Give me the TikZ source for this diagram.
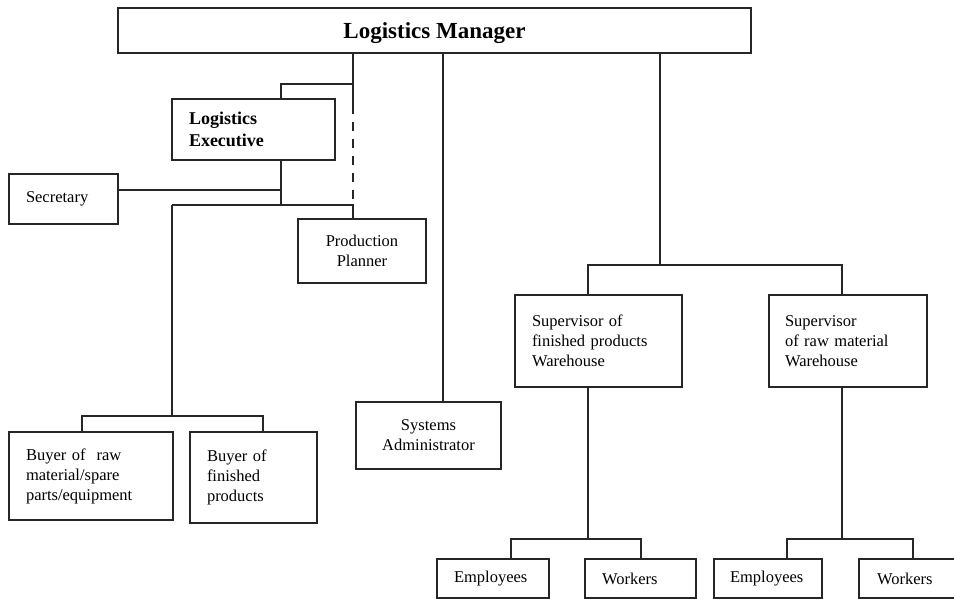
\documentclass[tikz,border=0pt]{standalone}
\usepackage{fontspec}
\setmainfont{Liberation Serif}
\usepackage{tikz}
\usetikzlibrary{positioning,calc}

\begin{document}
\begin{tikzpicture}[
    x=1pt, y=-1pt,
    line width=1.1pt, draw=black!85,
    font=\fontsize{16.5}{20}\selectfont,
    unit/.style={rectangle, draw=black!85, line width=1.1pt, inner sep=0pt, align=center},
    leftunit/.style={rectangle, draw=black!85, line width=1.1pt, inner ysep=0pt, inner xsep=17pt, align=left},
    headfont/.style={font=\fontsize{23}{27}\selectfont\bfseries},
    execfont/.style={font=\fontsize{18}{21.7}\selectfont\bfseries}
]
    \useasboundingbox (0,0) rectangle (954,599);

    % Top
    \node[unit, headfont, text depth=0pt, minimum width=633pt, minimum height=45pt] (mgr) at (434.5,30.5) {Logistics Manager};

    % Left branch
    \node[leftunit, execfont, text width=129pt, minimum height=61pt] (exec) at (253.5,129.5) {Logistics\\Executive};
    \node[leftunit, text width=75pt, minimum height=50pt] (sec) at (63.5,199) {Secretary};
    \node[unit, minimum width=128pt, minimum height=64pt] (plan) at (362,251) {Production\\Planner};
    \node[leftunit, text width=130pt, minimum height=88pt] (buyraw) at (91,476) {Buyer of\ \ raw\\material/spare\\parts/equipment};
    \node[leftunit, text width=93pt, minimum height=91pt] (buyfin) at (253.5,477.5) {Buyer of\\finished\\products};

    % Middle
    \node[unit, minimum width=145pt, minimum height=67pt] (sysadm) at (428.5,435.5) {Systems\\Administrator};

    % Right branch
    \node[leftunit, text width=133pt, minimum height=92pt] (supfin) at (598.5,341) {Supervisor of\\finished products\\Warehouse};
    \node[leftunit, inner xsep=16pt, text width=126pt, minimum height=92pt] (supraw) at (848,341) {Supervisor\\of raw material\\Warehouse};
    \node[leftunit, text width=78pt, minimum height=39pt] (emp1) at (493,578.5) {Employees};
    \node[leftunit, text width=77pt, minimum height=39pt] (wrk1) at (640.5,578.5) {Workers};
    \node[leftunit, inner xsep=16pt, text width=76pt, minimum height=39pt] (emp2) at (768,578.5) {Employees};
    \node[leftunit, inner xsep=18pt, text width=75pt, minimum height=39pt] (wrk2) at (914.5,578.5) {Workers};

    % Connection points
    \coordinate (execin) at ($(exec.north)+(27.5,0)$);
    \coordinate (execout) at ($(exec.south)+(27.5,0)$);
    \coordinate (planin) at ($(plan.north)+(-9,0)$);
    \coordinate (secout) at ($(sec.east)+(0,-9)$);
    \coordinate (buyrawin) at ($(buyraw.north)+(-9,0)$);
    \coordinate (buyfinin) at ($(buyfin.north)+(9.5,0)$);
    \coordinate (sysin) at ($(sysadm.north)+(14.5,0)$);
    \coordinate (supfinin) at ($(supfin.north)+(-10.5,0)$);
    \coordinate (suprawin) at ($(supraw.north)+(-6,0)$);
    \coordinate (emp1in) at ($(emp1.north)+(18,0)$);
    \coordinate (wrk1in) at ($(wrk1.north)+(0.5,0)$);
    \coordinate (emp2in) at ($(emp2.north)+(19,0)$);
    \coordinate (wrk2in) at ($(wrk2.north)+(-1.5,0)$);

    \coordinate (splitexec) at (353,84);
    \coordinate (dashtop) at (353,105);
    \coordinate (splitplan) at (353,205);
    \coordinate (splitbuy) at (172,416);
    \coordinate (splitsup) at (660,265);
    \coordinate (splitfin) at (588,539);
    \coordinate (splitraw) at (842,539);

    % Logistics Executive
    \draw (mgr.south -| splitexec) -- (dashtop);
    \draw (splitexec) -| (execin);
    \draw[dash pattern=on 9pt off 8pt] (dashtop) -- (splitplan);

    % Secretary, Production Planner, Buyers
    \draw (execout) -- (execout |- splitplan);
    \draw (secout) -- (secout -| execout);
    \draw (splitbuy |- splitplan) -- (splitplan) -- (planin);
    \draw (splitbuy |- splitplan) -- (splitbuy);
    \draw (buyrawin) |- (splitbuy) -| (buyfinin);

    % Systems Administrator
    \draw (mgr.south -| sysin) -- (sysin);

    % Supervisors
    \draw (mgr.south -| splitsup) -- (splitsup);
    \draw (supfinin) |- (splitsup) -| (suprawin);

    % Employees and Workers
    \draw (supfin.south -| splitfin) -- (splitfin);
    \draw (emp1in) |- (splitfin) -| (wrk1in);
    \draw (supraw.south -| splitraw) -- (splitraw);
    \draw (emp2in) |- (splitraw) -| (wrk2in);
\end{tikzpicture}
\end{document}
